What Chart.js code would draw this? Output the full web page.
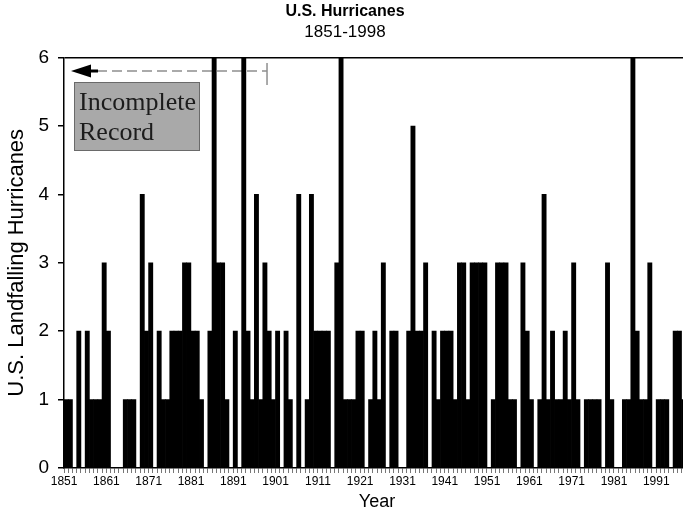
<!DOCTYPE html>
<html>
<head>
<meta charset="utf-8">
<script src="https://cdn.jsdelivr.net/npm/chart.js@4.4.1/dist/chart.umd.min.js"></script>
<style>
  html, body { margin: 0; padding: 0; background: #fff; overflow: hidden; }
  #wrap { width: 683px; height: 515px; overflow: hidden; }
  canvas { display: block; }
</style>
</head>
<body>
<div id="wrap"><canvas id="hurricaneChart" width="690" height="515"></canvas></div>
<script>
// ---------------- data ----------------
var firstYear = 1851;
var lastYear = 1998;
var years = [];
for (var yr = firstYear; yr <= lastYear; yr++) {
    years.push(String(yr));
}

// landfalling hurricanes per year, one row per decade
var hurricanes = [
    1, 1, 0, 2, 0, 2, 1, 1, 1, 3,   // 1851-1860
    2, 0, 0, 0, 1, 1, 1, 0, 4, 2,   // 1861-1870
    3, 0, 2, 1, 1, 2, 2, 2, 3, 3,   // 1871-1880
    2, 2, 1, 0, 2, 6, 3, 3, 1, 0,   // 1881-1890
    2, 0, 6, 2, 1, 4, 1, 3, 2, 1,   // 1891-1900
    2, 0, 2, 1, 0, 4, 0, 1, 4, 2,   // 1901-1910
    2, 2, 2, 0, 3, 6, 1, 1, 1, 2,   // 1911-1920
    2, 0, 1, 2, 1, 3, 0, 2, 2, 0,   // 1921-1930
    0, 2, 5, 2, 2, 3, 0, 2, 1, 2,   // 1931-1940
    2, 2, 1, 3, 3, 1, 3, 3, 3, 3,   // 1941-1950
    0, 1, 3, 3, 3, 1, 1, 0, 3, 2,   // 1951-1960
    1, 0, 1, 4, 1, 2, 1, 1, 2, 1,   // 1961-1970
    3, 1, 0, 1, 1, 1, 1, 0, 3, 1,   // 1971-1980
    0, 0, 1, 1, 6, 2, 1, 1, 3, 0,   // 1981-1990
    1, 1, 1, 0, 2, 2, 1, 3          // 1991-1998
];

var labelledYears = ['1851', '1861', '1871', '1881', '1891', '1901', '1911', '1921',
    '1931', '1941', '1951', '1961', '1971', '1981', '1991'];

var titleText = 'U.S. Hurricanes';
var subtitleText = '1851-1998';
var xTitle = 'Year';
var yTitle = 'U.S. Landfalling Hurricanes';
var noteLines = ['Incomplete', 'Record'];
var incompleteUntil = '1898';   // dashed arrow ends after this year

var sans = "'Liberation Sans', Arial, sans-serif";
var serif = "'Liberation Serif', 'Times New Roman', serif";

// ---------------- "Incomplete Record" note ----------------
var notePlugin = {
    id: 'incompleteNote',
    beforeDatasetsDraw: function(chart) {
        // dashed line sits under the bars, like the original
        var ctx = chart.ctx;
        var x = chart.scales.x;
        var i = years.indexOf(incompleteUntil);
        var endX = (x.getPixelForValue(i) + x.getPixelForValue(i + 1)) / 2;
        var startX = chart.chartArea.left + 33;
        var lineY = 71;
        ctx.save();
        ctx.strokeStyle = '#8f8f8f';
        ctx.lineWidth = 1.5;
        ctx.setLineDash([10, 5]);
        ctx.beginPath();
        ctx.moveTo(startX, lineY);
        ctx.lineTo(endX, lineY);
        ctx.stroke();
        ctx.setLineDash([]);
        ctx.beginPath();
        ctx.moveTo(endX, lineY - 8);
        ctx.lineTo(endX, lineY + 14);
        ctx.stroke();
        ctx.restore();
    },
    afterDatasetsDraw: function(chart) {
        var ctx = chart.ctx;
        var left = chart.chartArea.left;
        var lineY = 71;
        ctx.save();
        // arrow head
        ctx.fillStyle = '#000';
        ctx.beginPath();
        ctx.moveTo(left + 7, lineY);
        ctx.lineTo(left + 27, lineY - 6.5);
        ctx.lineTo(left + 27, lineY + 6.5);
        ctx.closePath();
        ctx.fill();
        ctx.fillRect(left + 26, lineY - 1.5, 8, 3);

        // grey box
        ctx.fillStyle = '#a9a9a9';
        ctx.strokeStyle = '#6a6a6a';
        ctx.lineWidth = 1;
        ctx.fillRect(left + 10, 82, 126, 69);
        ctx.strokeRect(left + 10.5, 82.5, 125, 68);

        ctx.fillStyle = '#1c1c1c';
        ctx.font = '26px ' + serif;
        ctx.textAlign = 'left';
        ctx.textBaseline = 'alphabetic';
        ctx.fillText(noteLines[0], left + 15, 110);
        ctx.fillText(noteLines[1], left + 15, 140);
        ctx.restore();
    }
};

// ---------------- chart ----------------
var ctx = document.getElementById('hurricaneChart').getContext('2d');
var chart = new Chart(ctx, {
    type: 'bar',
    data: {
        labels: years,
        datasets: [{
            label: yTitle,
            data: hurricanes,
            backgroundColor: '#000',
            borderWidth: 0,
            barPercentage: 1.0,
            categoryPercentage: 1.0
        }]
    },
    options: {
        responsive: false,
        devicePixelRatio: 1,
        animation: false,
        layout: { padding: 0 },
        plugins: {
            legend: { display: false },
            tooltip: { enabled: false },
            title: {
                display: true,
                text: titleText,
                color: '#000',
                font: { family: sans, size: 16, weight: 'bold', lineHeight: 1.2 },
                padding: { top: 2, bottom: 0 }
            },
            subtitle: {
                display: true,
                text: subtitleText,
                color: '#000',
                font: { family: sans, size: 17, weight: 'normal', lineHeight: 1.2 },
                padding: { top: 1, bottom: 15 }
            }
        },
        scales: {
            x: {
                offset: true,
                grid: {
                    offset: true,
                    drawOnChartArea: false,
                    drawTicks: true,
                    tickLength: 5,
                    tickColor: '#777',
                    lineWidth: 1
                },
                border: { display: true, color: '#000', width: 1.5 },
                ticks: {
                    autoSkip: false,
                    maxRotation: 0,
                    minRotation: 0,
                    padding: 1,
                    labelOffset: -2,
                    color: '#000',
                    font: { family: sans, size: 12 },
                    callback: function(value) {
                        var lbl = this.getLabelForValue(value);
                        return labelledYears.indexOf(lbl) >= 0 ? lbl : '';
                    }
                },
                title: {
                    display: true,
                    text: xTitle,
                    color: '#000',
                    font: { family: sans, size: 18 },
                    padding: { top: 0, bottom: 2 }
                },
                afterFit: function(scale) { scale.height = 47; }
            },
            y: {
                min: 0,
                max: 6,
                ticks: {
                    stepSize: 1,
                    color: '#000',
                    padding: 9,
                    font: { family: sans, size: 19 }
                },
                grid: {
                    color: function(c) { return c.tick && c.tick.value === 6 ? '#000' : 'rgba(0,0,0,0)'; },
                    lineWidth: 1.5,
                    tickColor: '#000',
                    tickLength: 6
                },
                border: { display: true, color: '#000', width: 1.5 },
                title: {
                    display: true,
                    text: yTitle,
                    color: '#000',
                    font: { family: sans, size: 22 },
                    padding: { top: 4, bottom: 0 }
                },
                afterFit: function(scale) { scale.width = 64; }
            }
        }
    },
    plugins: [notePlugin]
});
</script>
</body>
</html>
